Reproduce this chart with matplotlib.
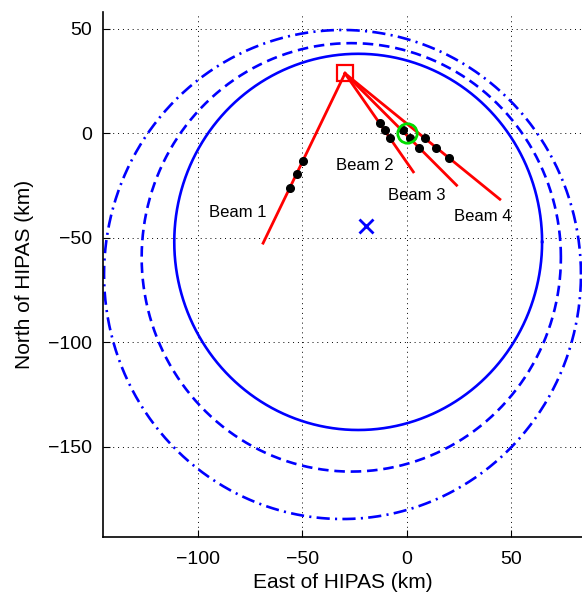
import numpy as np
import matplotlib
matplotlib.use("Agg")
import matplotlib.pyplot as plt

plt.rcParams['font.family'] = ['Liberation Sans', 'DejaVu Sans']

# Coverage ellipses: (center_x, center_y, radius_x, radius_y) in km
circle_solid = (-23.2, -52.0, 88.0, 90.0)
circle_dashed = (-26.5, -59.4, 100.3, 102.5)
circle_dashdot = (-30.7, -67.6, 114.1, 117.0)

# Transmitter (apex) and beam end points
apex = (-29.5, 28.6)
beam_names = ["Beam 1", "Beam 2", "Beam 3", "Beam 4"]
beam_end_x = [-68.7, 3.2, 23.9, 44.6]
beam_end_y = [-52.6, -18.5, -24.9, -31.6]

# Sample points along beams
dots_x = [-49.5, -52.6, -55.8, -12.8, -10.4, -8.0, -1.9, 1.6, 6.0, 8.8, 14.0, 20.4]
dots_y = [-13.3, -19.3, -26.0, 4.9, 1.4, -2.5, 1.4, -2.5, -7.0, -2.2, -7.0, -11.8]

# Label positions
label_x = [-80.7, -20.0, 5.0, 36.5]
label_y = [-38.0, -15.3, -30.0, -40.0]

# Receiver and HIPAS
receiver = (-19.5, -44.5)
hipas = (0.0, 0.0)

xticks = [-100, -50, 0, 50]
yticks = [50, 0, -50, -100, -150]

fig = plt.figure(figsize=(5.82, 5.96), dpi=100)
ax = fig.add_axes([103/582, 59/596, 1 - 103/582, (537-12)/596])

th = np.linspace(0, 2*np.pi, 721)
for (cx, cy, rx, ry), ls in [(circle_solid, '-'), (circle_dashed, (0, (4, 2.2))),
                             (circle_dashdot, (0, (5, 2, 0.8, 2)))]:
    ax.plot(cx + rx*np.cos(th), cy + ry*np.sin(th), color='#0000ff', lw=1.9,
            linestyle=ls, zorder=2)

for ex, ey in zip(beam_end_x, beam_end_y):
    ax.plot([apex[0], ex], [apex[1], ey], color='#ff0000', lw=2.0, zorder=3)

ax.plot(dots_x, dots_y, 'o', color='black', ms=5.5, zorder=4, linestyle='none')
ax.plot([apex[0]], [apex[1]], 's', mfc='none', mec='#ff0000', ms=11, mew=1.6, zorder=5)
ax.plot([hipas[0]], [hipas[1]], 'o', mfc='none', mec='#00dd00', ms=14, mew=2.0, zorder=5)
ax.plot([receiver[0]], [receiver[1]], 'x', color='#0000ff', ms=10, mew=2.0, zorder=5)

for name, lx, ly in zip(beam_names, label_x, label_y):
    ax.text(lx, ly, name, fontsize=12, ha='center', va='center', zorder=6)

ax.set_xlim(-145.3, 83.9)
ax.set_ylim(-193.2, 58.0)
ax.set_xticks(xticks)
ax.set_yticks(yticks)
ax.set_xticklabels(['\u2212100', '\u221250', '0', '50'])
ax.set_yticklabels(['50', '0', '\u221250', '\u2212100', '\u2212150'])
ax.tick_params(axis='x', direction='in', length=5, width=0.8, labelsize=14, pad=10,
               top=False)
ax.tick_params(axis='y', direction='in', length=5, width=0.8, labelsize=14, pad=8,
               right=False)
ax.grid(True, linestyle=(0, (1, 4)), color='black', lw=0.7)
ax.spines['top'].set_visible(False)
ax.spines['right'].set_visible(False)
ax.spines['left'].set_linewidth(1.2)
ax.spines['bottom'].set_linewidth(1.2)
ax.set_xlabel('East of HIPAS (km)', fontsize=15, labelpad=4)
ax.set_ylabel('North of HIPAS (km)', fontsize=15, labelpad=10)

fig.savefig('out.png', dpi=100)
